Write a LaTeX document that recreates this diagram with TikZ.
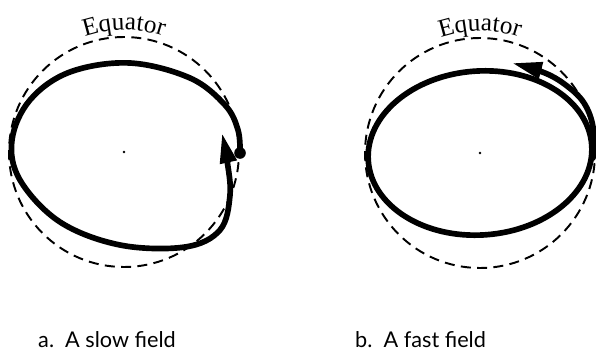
\documentclass[tikz,border=0pt]{standalone}
\usepackage{fontspec}
\setmainfont{Liberation Serif}
\setsansfont{Lato}
\usepackage{tikz}
\usetikzlibrary{arrows.meta, decorations.text}
\newcommand{\eqfont}{\fontsize{21.5}{24}\selectfont\rmfamily}
\newcommand{\capfont}{\fontsize{18.5}{24}\selectfont\sffamily}

\begin{document}
\begin{tikzpicture}[
    x=0.03cm, y=0.03cm,
    equator/.style={dashed, line width=0.058cm, dash pattern=on 0.3cm off 0.19cm},
    orbit/.style={line width=0.17cm, line cap=round, line join=round},
    tip/.style={-{Triangle[length=0.9cm, width=0.48cm]}},
    caption/.style={anchor=base west, inner sep=0pt, font=\capfont}
]
\useasboundingbox (0,0) rectangle (596,354);

% Centres
\coordinate (CA) at (124,202);
\coordinate (CB) at (480,201);

% Left panel: slow field
\draw[equator] (CA) circle[radius=115];
\fill (CA) circle[radius=1.3];
\path[decorate, decoration={text along path, text align=center,
    text={|\eqfont|Equator}}]
    (CA) ++(125:122) arc[start angle=125, end angle=55, radius=122];
\coordinate (startA) at (240,201);
\fill (startA) circle[radius=5.8];
\draw[orbit, tip] plot[smooth, tension=0.6] coordinates {
    (240,201) (238,224) (225,249) (190,276) (130,291) (70,282) (30,254)
    (12,214) (20,174) (60,132) (120,109) (185,107) (220,124) (230,159)
    (227,194) (222,221)};

% Right panel: fast field
\draw[equator] (CB) circle[radius=115];
\fill (CB) circle[radius=1.3];
\path[decorate, decoration={text along path, text align=center,
    text={|\eqfont|Equator}}]
    (CB) ++(125:122) arc[start angle=125, end angle=55, radius=122];
\draw[orbit] (CB) ellipse[x radius=112, y radius=82, rotate=4];
\draw[orbit, tip] plot[smooth, tension=0.6] coordinates {
    (593,196) (593,227) (584,251) (567,268) (545,281) (512,291)};

% Captions
\node[caption] (capA) at (38,7) {a.\ \ A slow field};
\node[caption] (capB) at (355,7) {b.\ \ A fast field};
\end{tikzpicture}
\end{document}
